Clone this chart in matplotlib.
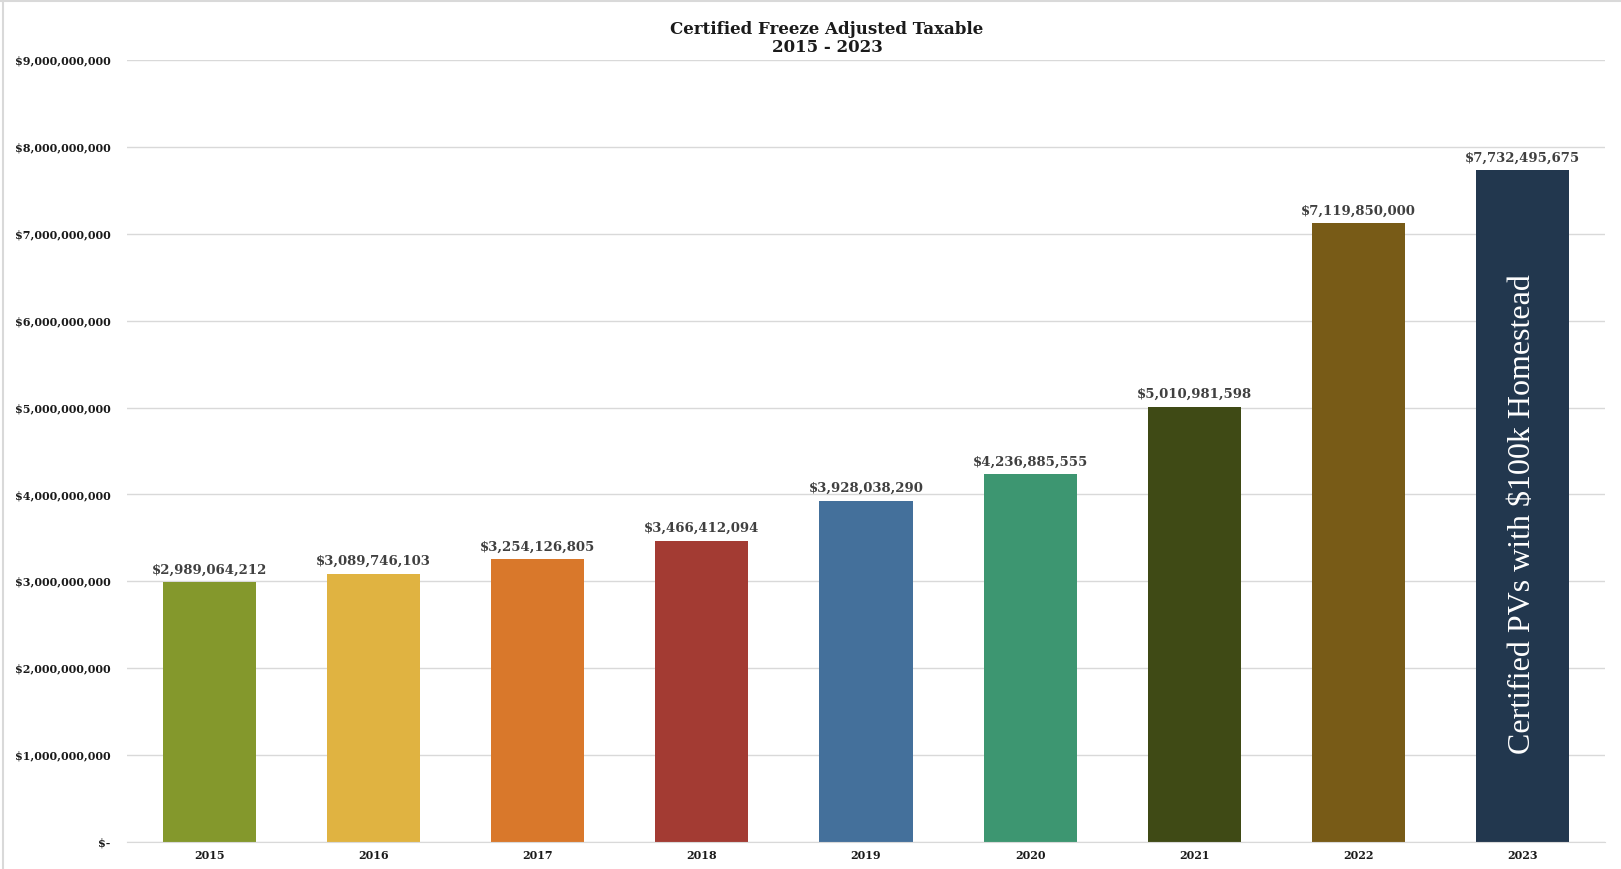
import matplotlib
matplotlib.use('Agg')
import matplotlib.pyplot as plt
from matplotlib.ticker import FuncFormatter
from matplotlib.lines import Line2D

years = ['2015', '2016', '2017', '2018', '2019', '2020', '2021', '2022', '2023']
values = [2989064212, 3089746103, 3254126805, 3466412094, 3928038290,
          4236885555, 5010981598, 7119850000, 7732495675]
colors = ['#84982c', '#e0b341', '#d9782b', '#a33b33', '#44709b',
          '#3d9671', '#3f4a15', '#785b17', '#22374e']
note_text = 'Certified PVs with $100k Homestead'

plt.rcParams['font.family'] = 'DejaVu Serif'

fig = plt.figure(figsize=(16.21, 8.69), dpi=100)
ax = fig.add_axes([127 / 1621, 27 / 869, (1605 - 127) / 1621, (843 - 61) / 869])

x = range(len(years))
bars = ax.bar(x, values, width=0.567, color=colors, zorder=2)

for xi, v in zip(x, values):
    ax.annotate('${:,.0f}'.format(v), (xi, v), xytext=(0, 4), textcoords='offset points',
                ha='center', va='bottom', fontsize=9.5, fontweight='bold', color='#404040')

ax.text(8, 3.77e9, note_text, rotation=90, ha='center', va='center', color='white',
        fontsize=23, family='Liberation Serif')

ax.set_xlim(-0.5, len(years) - 0.5)
ax.set_ylim(0, 9e9)
ax.set_yticks([i * 1e9 for i in range(10)])
ax.yaxis.set_major_formatter(FuncFormatter(lambda v, p: '$-' if v == 0 else '${:,.0f}'.format(v)))
ax.set_xticks(list(x))
ax.set_xticklabels(years)
ax.tick_params(length=0, labelsize=8)
ax.tick_params(axis='y', pad=12)
ax.tick_params(axis='x', pad=6)
for lab in ax.get_xticklabels() + ax.get_yticklabels():
    lab.set_fontweight('bold')
    lab.set_color('#1a1a1a')

ax.grid(axis='y', color='#d9d9d9', linewidth=1, zorder=0)
ax.set_axisbelow(True)
for s in ['top', 'right', 'left']:
    ax.spines[s].set_visible(False)
ax.spines['bottom'].set_color('#d9d9d9')

fig.text(827 / 1621, 1 - 29 / 869, 'Certified Freeze Adjusted Taxable', ha='center', va='center',
         fontsize=12, fontweight='bold', color='#1a1a1a')
fig.text(827 / 1621, 1 - 48 / 869, '2015 - 2023', ha='center', va='center',
         fontsize=12, fontweight='bold', color='#1a1a1a')

# chart area border (top and left)
fig.add_artist(Line2D([0, 1], [0.999, 0.999], color='#d9d9d9', linewidth=1.5))
fig.add_artist(Line2D([0.002, 0.002], [0, 1], color='#d9d9d9', linewidth=1.5))

fig.savefig('out.png', dpi=100)
